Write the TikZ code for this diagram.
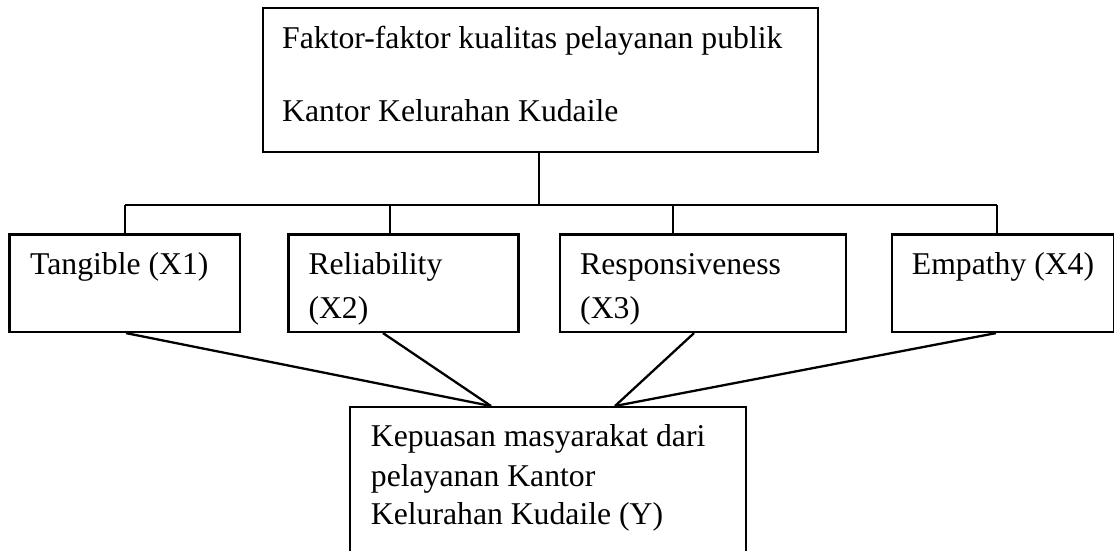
\documentclass[tikz,border=0pt]{standalone}
\usepackage{fontspec}
\setmainfont{Liberation Serif}
\begin{document}
\begin{tikzpicture}[x=1pt,y=-1pt,
  box/.style={draw=black, line width=2.4pt, rectangle, inner sep=0pt, anchor=north west},
  lbl/.style={anchor=base west, inner sep=0pt, font=\fontsize{31.7}{38}\selectfont},
  tree/.style={draw=black, line width=2pt},
  spoke/.style={draw=black, line width=2.3pt}]
\useasboundingbox (0,0) rectangle (1114,551);
\clip (0,0) rectangle (1114,551);
% boxes
\node[box, minimum width=555pt, minimum height=144pt] (top) at (262,7) {};
\node[box, minimum width=230.7pt, minimum height=97.4pt] (tang) at (8.3,233.3) {};
\node[box, minimum width=230pt, minimum height=97.4pt] (rel) at (287.3,233.3) {};
\node[box, minimum width=286pt, minimum height=97.4pt] (resp) at (559,233.3) {};
\node[box, minimum width=221.5pt, minimum height=97.4pt] (emp) at (891,233.3) {};
\node[box, minimum width=396pt, minimum height=160pt] (bot) at (349,406) {};
% texts
\node[lbl] (t1) at (282,48.3) {Faktor-faktor kualitas pelayanan publik};
\node[lbl] (t2) at (282,121.7) {Kantor Kelurahan Kudaile};
\node[lbl] (ta) at (30,274) {Tangible (X1)};
\node[lbl] (ra) at (308.3,274) {Reliability};
\node[lbl] (rb) at (308.3,318.3) {(X2)};
\node[lbl] (sa) at (580,274) {Responsiveness};
\node[lbl] (sb) at (580,318.3) {(X3)};
\node[lbl] (ea) at (911.7,274) {Empathy (X4)};
\node[lbl] (ba) at (370.7,446.5) {Kepuasan masyarakat dari};
\node[lbl] (bb) at (370.7,486.7) {pelayanan Kantor};
\node[lbl] (bc) at (370.7,524) {Kelurahan Kudaile (Y)};
% tree connectors
\coordinate (hub) at (538.5,205);
\coordinate (d1) at (125,205);
\coordinate (d2) at (390,205);
\coordinate (d3) at (673.3,205);
\coordinate (d4) at (996.7,205);
\draw[tree] (top.south -| hub) -- (hub);
\draw[tree] (d1) -- (d4);
\draw[tree] (d1) -- (d1 |- tang.north);
\draw[tree] (d2) -- (d2 |- rel.north);
\draw[tree] (d3) -- (d3 |- resp.north);
\draw[tree] (d4) -- (d4 |- emp.north);
% spokes to bottom box
\draw[spoke] ([xshift=117.7pt]tang.south west) -- ([xshift=142pt]bot.north west);
\draw[spoke] ([xshift=95.7pt]rel.south west) -- ([xshift=142pt]bot.north west);
\draw[spoke] ([xshift=135pt]resp.south west) -- ([xshift=266pt]bot.north west);
\draw[spoke] ([xshift=105pt]emp.south west) -- ([xshift=266pt]bot.north west);
\end{tikzpicture}
\end{document}
